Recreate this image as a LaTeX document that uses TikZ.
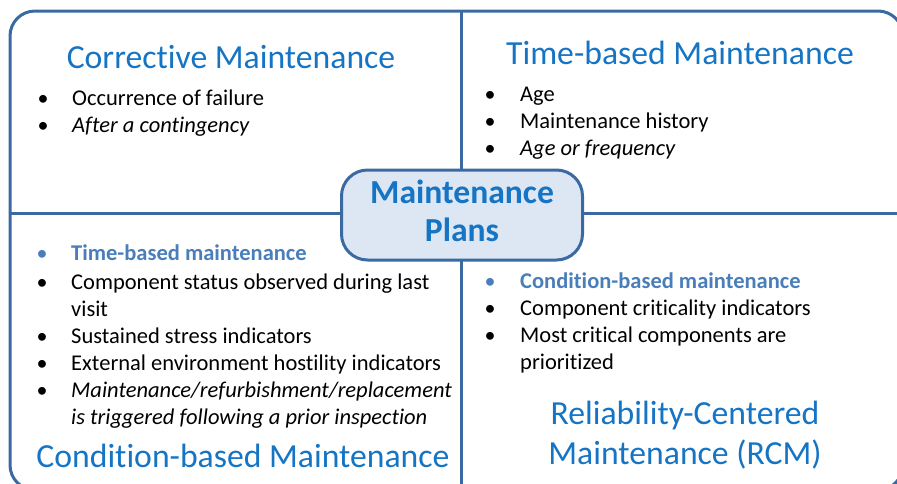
\documentclass[tikz,border=0pt]{standalone}
\usepackage{fontspec}
\setmainfont{Carlito}[Ligatures=NoCommon]
\definecolor{linec}{RGB}{59,106,163}
\definecolor{titlec}{RGB}{22,116,196}
\definecolor{subc}{RGB}{74,126,187}
\definecolor{fillc}{RGB}{221,231,243}
\tikzset{
  frame/.style={draw=linec, line width=3pt},
  title/.style={text=titlec, font=\fontsize{33.7}{41}\selectfont, anchor=mid, inner sep=0pt},
  body/.style={font=\fontsize{22.5}{27}\selectfont, anchor=mid west, inner sep=0pt},
  sub/.style={body, text=subc, font=\fontsize{22.5}{27}\selectfont\bfseries},
  bul/.style={font=\fontsize{22}{27}\selectfont, anchor=mid, inner sep=0pt},
  subbul/.style={bul, text=subc},
  centerbox/.style={draw=linec, line width=3pt, fill=fillc, rounded corners=26pt, minimum width=241pt, minimum height=90pt, inner sep=0pt},
  centertext/.style={text=titlec, font=\fontsize{33.6}{40}\selectfont\bfseries, align=center, inner sep=0pt}
}
\begin{document}
\begin{tikzpicture}[x=1pt,y=-1pt]
\useasboundingbox (0,0) rectangle (897,483);
\begin{scope}
\clip (0,0) rectangle (897,483);
\draw[frame, rounded corners=25pt] (10,11) rectangle (903,490);
\coordinate (vt) at (461,11);
\coordinate (vb) at (461,490);
\coordinate (hl) at (10,213);
\coordinate (hr) at (903,213);
\draw[frame] (vt) -- (vb);
\draw[frame] (hl) -- (hr);
\end{scope}
\node[centerbox] (mp) at (462,215) {};
\node[centertext] (mpt) at (462,211) {Maintenance\\[-2pt]Plans};

% top left
\node[title] (t1) at (231,66) {Corrective Maintenance};
\node[bul] (b11) at (43,103) {•};
\node[body] (l11) at (72,103) {Occurrence of failure};
\node[bul] (b12) at (43,130) {•};
\node[body] (l12) at (72,130) {\itshape After a contingency};

% top right
\node[title] (t2) at (680,62) {Time-based Maintenance};
\node[bul] (b21) at (490,99) {•};
\node[body] (l21) at (520,99) {Age};
\node[bul] (b22) at (490,126) {•};
\node[body] (l22) at (520,126) {Maintenance history};
\node[bul] (b23) at (490,153) {•};
\node[body] (l23) at (520,153) {\itshape Age or frequency};

% bottom left
\node[subbul] (b31) at (42,258.5) {•};
\node[sub] (l31) at (71,258.5) {Time-based maintenance};
\node[bul] (b32) at (42,287) {•};
\node[body] (l32) at (71,287) {Component status observed during last};
\node[body] (l32b) at (71,314) {visit};
\node[bul] (b33) at (42,341) {•};
\node[body] (l33) at (71,341) {Sustained stress indicators};
\node[bul] (b34) at (42,368) {•};
\node[body] (l34) at (71,368) {External environment hostility indicators};
\node[bul] (b35) at (42,395) {•};
\node[body] (l35) at (71,395) {\itshape Maintenance/refurbishment/replacement};
\node[body] (l35b) at (71,422) {\itshape is triggered following a prior inspection};
\node[title] (t3) at (243,465) {Condition-based Maintenance};

% bottom right
\node[subbul] (b41) at (490,286.5) {•};
\node[sub] (l41) at (520,286.5) {Condition-based maintenance};
\node[bul] (b42) at (490,313.5) {•};
\node[body] (l42) at (520,313.5) {Component criticality indicators};
\node[bul] (b43) at (490,340.5) {•};
\node[body] (l43) at (520,340.5) {Most critical components are};
\node[body] (l43b) at (520,367.5) {prioritized};
\node[title] (t4a) at (685,422) {Reliability-Centered};
\node[title] (t4b) at (685,462) {Maintenance (RCM)};
\end{tikzpicture}
\end{document}
